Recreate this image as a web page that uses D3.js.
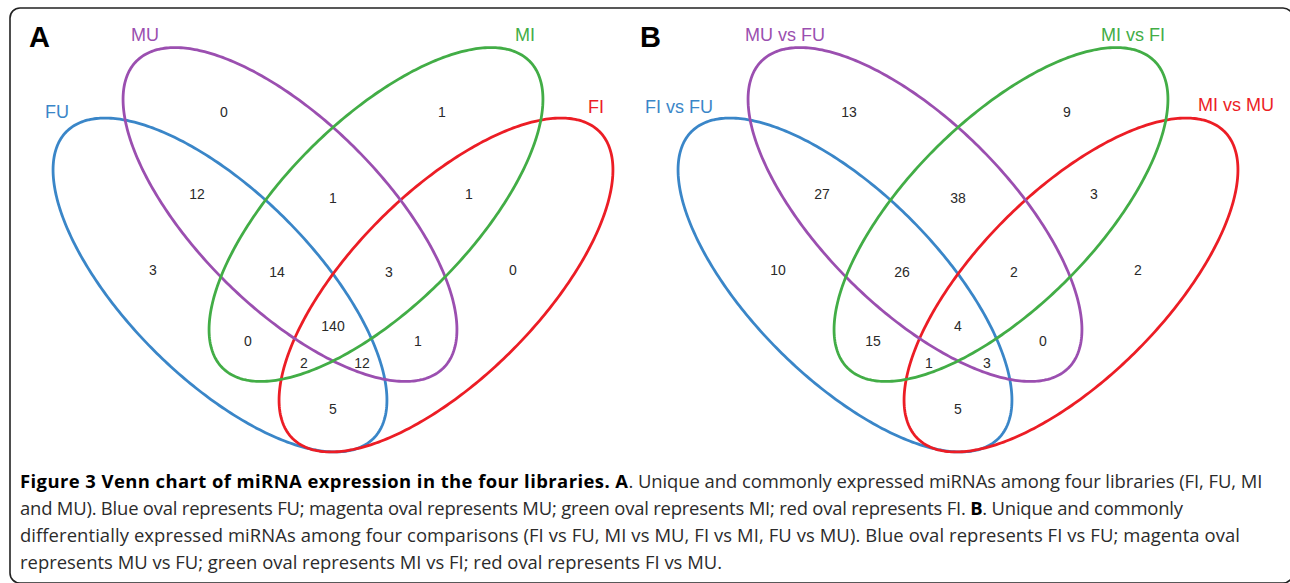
<!DOCTYPE html>
<html>
<head>
<meta charset="utf-8">
<script src="https://cdn.jsdelivr.net/npm/d3@7"></script>
<style>
  html, body { margin: 0; padding: 0; background: #fff; }
  svg { display: block; }
</style>
</head>
<body>
<svg id="chart" width="1290" height="583"></svg>
<script>
// sets, in drawing order: blue, magenta, green, red
const setKeys = ['blue', 'purple', 'green', 'red']
const setColors = ['#3a86c8', '#9b4fb0', '#42ad46', '#ec1d25']

const namesA = ['FU', 'MU', 'MI', 'FI']
const namesB = ['FI vs FU', 'MU vs FU', 'MI vs FI', 'MI vs MU']

// regions of the 4-set venn (b = blue, p = purple, g = green, r = red)
const regions = ['p', 'g', 'bp', 'pg', 'gr', 'b', 'bpg', 'pgr', 'r', 'bpgr', 'bg', 'pr', 'bgr', 'bpr', 'br']
const countsA = [0, 1, 12, 1, 1, 3, 14, 3, 0, 140, 0, 1, 2, 12, 5]
const countsB = [13, 9, 27, 38, 3, 10, 26, 2, 2, 4, 15, 0, 1, 3, 5]

const captionLines = [
  [['b', 'Figure 3 Venn chart of miRNA expression in the four libraries. A'], ['n', '. Unique and commonly expressed miRNAs among four libraries (FI, FU, MI']],
  [['n', 'and MU). Blue oval represents FU; magenta oval represents MU; green oval represents MI; red oval represents FI. '], ['b', 'B'], ['n', '. Unique and commonly']],
  [['n', 'differentially expressed miRNAs among four comparisons (FI vs FU, MI vs MU, FI vs MI, FU vs MU). Blue oval represents FI vs FU; magenta oval']],
  [['n', 'represents MU vs FU; green oval represents MI vs FI; red oval represents FI vs MU.']]
]

// ---- layout (design units: x relative to the symmetry axis, y in px) ----
const ellipses = [
  {cx: -113, cy: 285, a: 217, b: 93, rot: 45},
  {cx: -43, cy: 214.5, a: 217, b: 93, rot: 45},
  {cx: 43, cy: 214.5, a: 217, b: 93, rot: -45},
  {cx: 113, cy: 285, a: 217, b: 93, rot: -45}
]
const regionPos = {
  p: [-109, 112], g: [109, 112], bp: [-136, 193.5], pg: [0, 197.5], gr: [136, 193.5],
  b: [-180, 270], bpg: [-56, 272], pgr: [56, 272], r: [180, 270], bpgr: [0, 326],
  bg: [-85, 341], pr: [85, 341], bgr: [-29, 362.5], bpr: [29, 362.5], br: [0, 408.5]
}
const labelPosA = [[-276, 118], [-188, 41], [192, 41], [263, 113]]
const labelPosB = [[-279, 113], [-173, 41], [175, 41], [278, 111]]

const svg = d3.select('#chart')

// frame (right and bottom edges run off the picture)
svg.append('rect')
  .attr('x', 10).attr('y', 8)
  .attr('width', 1283).attr('height', 575)
  .attr('rx', 10)
  .attr('fill', 'none')
  .attr('stroke', '#222')
  .attr('stroke-width', 1.6)

function drawPanel(axisX, letter, letterX, names, labelPos, counts) {
  const xScale = d3.scaleLinear().domain([-300, 300]).range([axisX - 300, axisX + 300])
  const yScale = d3.scaleLinear().domain([0, 583]).range([0, 583])
  const g = svg.append('g')

  const line = d3.line()
    .x(d => xScale(d[0]))
    .y(d => yScale(d[1]))
    .curve(d3.curveLinearClosed)

  const order = [0, 3, 1, 2]
  g.selectAll('path.oval')
    .data(order.map(i => ({e: ellipses[i], color: setColors[i]})))
    .join('path')
      .attr('class', 'oval')
      .attr('d', d => {
        const th = d.e.rot * Math.PI / 180
        const pts = d3.range(0, 360, 1).map(deg => {
          const t = deg * Math.PI / 180
          return [
            d.e.cx + d.e.a * Math.cos(th) * Math.cos(t) - d.e.b * Math.sin(th) * Math.sin(t),
            d.e.cy + d.e.a * Math.sin(th) * Math.cos(t) + d.e.b * Math.cos(th) * Math.sin(t)
          ]
        })
        return line(pts)
      })
      .attr('fill', 'none')
      .attr('stroke', d => d.color)
      .attr('stroke-width', 2.8)

  g.selectAll('text.count')
    .data(regions.map((r, i) => ({r, v: counts[i]})))
    .join('text')
      .attr('class', 'count')
      .attr('x', d => xScale(regionPos[d.r][0]))
      .attr('y', d => yScale(regionPos[d.r][1]))
      .attr('dy', '0.36em')
      .attr('text-anchor', 'middle')
      .attr('font-family', 'Liberation Sans, Arial, sans-serif')
      .attr('font-size', 14)
      .attr('fill', '#2a2a2a')
      .text(d => d.v)

  g.selectAll('text.setname')
    .data(names.map((n, i) => ({n, i})))
    .join('text')
      .attr('class', 'setname')
      .attr('x', d => xScale(labelPos[d.i][0]))
      .attr('y', d => yScale(labelPos[d.i][1]))
      .attr('text-anchor', 'middle')
      .attr('font-family', 'Liberation Sans, Arial, sans-serif')
      .attr('font-size', 18)
      .attr('fill', d => setColors[d.i])
      .text(d => d.n)

  g.append('text')
    .attr('x', letterX).attr('y', 47)
    .attr('font-family', 'Liberation Sans, Arial, sans-serif')
    .attr('font-weight', 'bold')
    .attr('font-size', 29)
    .attr('fill', '#000')
    .text(letter)
}

drawPanel(333, 'A', 29, namesA, labelPosA, countsA)
drawPanel(958, 'B', 640, namesB, labelPosB, countsB)

// caption
const capX = 20
const capBase = [488, 515, 542, 569]
const capEnds = [1262, 1183, 1240, 722]   // right end of each line in the reference
const boldEnd = 628                        // end of the bold run on line 1
const cap = svg.append('g')
  .attr('font-family', 'Open Sans, sans-serif')
  .attr('fill', '#2b2b2b')

const capText = cap.selectAll('text')
  .data(captionLines)
  .join('text')
    .attr('x', capX)
    .attr('y', (d, i) => capBase[i])
    .attr('font-size', 17)

capText.selectAll('tspan')
  .data(d => d)
  .join('tspan')
    .attr('font-weight', d => d[0] === 'b' ? 'bold' : 'normal')
    .attr('fill', d => d[0] === 'b' ? '#000' : null)
    .text(d => d[1])

// size the normal text from the last line, then stretch each line to its width
const last = capText.nodes()[3]
const fs = 17 * (capEnds[3] - capX) / last.getComputedTextLength()
capText.attr('font-size', fs)
capText.each(function (d, i) {
  if (i === 0) {
    const spans = d3.select(this).selectAll('tspan').nodes()
    d3.select(spans[0]).attr('textLength', boldEnd - capX).attr('lengthAdjust', 'spacing')
    d3.select(spans[1]).attr('textLength', capEnds[0] - boldEnd).attr('lengthAdjust', 'spacing')
  } else {
    d3.select(this).attr('textLength', capEnds[i] - capX).attr('lengthAdjust', 'spacing')
  }
})
</script>
</body>
</html>
